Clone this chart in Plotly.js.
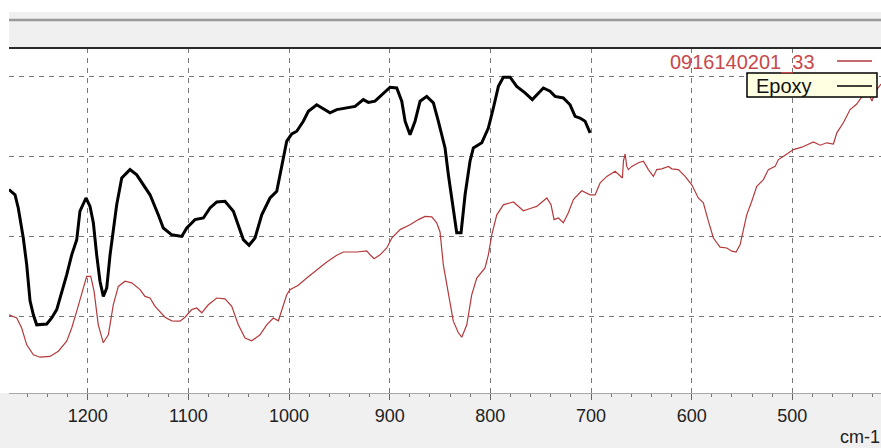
<!DOCTYPE html>
<html>
<head>
<meta charset="utf-8">
<script src="https://cdn.plot.ly/plotly-3.0.1.min.js"></script>
<style>
  html, body { margin: 0; padding: 0; background: #ffffff; overflow: hidden; }
  #chart { width: 881px; height: 448px; }
</style>
</head>
<body>
<div id="chart"></div>
<script>
// ---- Data (wavenumber cm-1, relative intensity) ----
const epoxyWavenumber = [1278.2,1272.2,1269.0,1264.0,1260.6,1257.3,1254.0,1250.7,1240.7,1235.8,1230.8,1225.8,1220.9,1215.9,1210.9,1207.7,1201.7,1197.7,1194.4,1191.1,1187.8,1184.5,1181.1,1177.8,1174.6,1171.2,1166.2,1158.0,1151.3,1144.8,1138.1,1129.9,1124.9,1116.5,1106.6,1101.6,1093.4,1085.1,1078.5,1071.8,1063.6,1055.3,1050.4,1045.4,1039.7,1033.8,1027.1,1018.9,1012.2,1007.3,1002.3,997.3,992.3,985.8,980.8,972.5,965.9,959.3,952.6,942.7,934.4,926.2,921.2,914.6,907.9,899.6,893.0,888.0,884.7,879.8,874.8,869.8,863.2,856.6,851.7,845.0,841.7,836.8,833.4,829.1,825.1,820.2,816.9,808.5,802.0,797.0,792.0,787.1,780.4,773.8,765.5,758.3,753.9,747.3,740.7,735.7,727.5,720.8,715.8,710.9,705.9,700.9];
const epoxyValue = [51.6,50.3,47.0,39.5,32.8,23.8,20.3,17.8,18.0,19.5,21.6,25.8,30.3,35.3,39.1,46.2,49.5,47.4,43.3,35.3,28.7,24.9,27.0,35.3,42.0,47.8,54.5,56.6,55.3,52.8,50.3,45.3,42.0,40.3,39.9,42.0,44.1,44.5,47.0,48.5,48.7,46.2,42.8,39.1,37.7,39.5,45.3,49.5,51.2,57.8,63.7,65.5,66.2,68.7,71.2,72.8,71.8,70.8,71.6,72.0,72.4,74.1,73.4,73.7,75.3,77.2,77.0,73.7,68.7,65.3,68.7,73.7,74.9,73.3,68.7,62.0,55.3,47.0,40.8,40.8,50.3,58.7,62.0,63.3,67.0,72.0,77.4,79.7,79.7,77.4,75.8,74.1,75.3,77.0,76.2,74.9,74.5,72.8,69.9,69.5,68.7,65.8];

const sampleWavenumber = [1278.2,1270.5,1265.6,1260.6,1254.0,1247.4,1237.5,1229.2,1220.9,1215.9,1210.9,1206.0,1201.0,1197.0,1193.7,1189.5,1184.5,1179.5,1174.6,1169.6,1162.9,1156.3,1148.0,1143.1,1138.1,1133.1,1123.2,1116.5,1108.3,1103.3,1096.7,1091.7,1086.7,1080.2,1071.8,1063.6,1056.9,1050.4,1043.7,1037.1,1028.8,1022.2,1015.6,1010.6,1007.3,1002.3,999.0,990.8,982.4,972.5,962.5,952.6,946.0,932.7,922.8,919.5,915.5,909.6,902.9,897.9,889.7,879.8,871.5,864.9,858.2,853.3,850.0,846.7,841.7,836.8,831.8,828.4,823.4,818.5,813.5,805.3,802.0,798.6,793.6,787.1,777.1,767.2,758.9,753.9,743.9,739.7,736.7,732.4,727.5,722.5,717.5,709.2,700.9,695.9,690.9,684.3,676.0,671.0,668.8,667.8,666.1,664.5,662.9,659.5,652.9,647.9,643.0,638.0,634.7,629.7,623.1,619.8,613.2,606.5,599.9,593.4,588.4,583.4,578.4,571.8,565.1,560.1,555.9,551.9,548.6,545.3,540.3,535.3,528.7,523.8,517.1,513.8,507.2,498.9,490.6,485.6,479.0,472.4,465.8,459.2,455.8,449.3,442.6,436.0,431.0,424.8,420.8,417.8,411.9];
const sampleValue = [20.3,19.5,17.0,12.8,10.3,9.7,9.9,11.2,13.7,17.0,21.2,25.3,29.9,29.9,26.2,17.8,13.3,15.3,22.8,27.4,28.7,28.3,26.6,24.9,24.5,22.4,19.7,18.8,18.7,19.7,21.6,22.0,20.8,22.8,24.5,24.3,22.4,17.8,14.5,13.8,15.3,17.8,19.5,18.8,21.2,25.3,26.6,27.7,29.5,31.6,33.5,35.2,36.0,36.0,36.3,35.3,34.3,35.3,37.0,39.5,41.6,42.8,44.1,44.9,44.8,43.3,41.0,32.8,25.3,18.7,15.8,14.7,17.8,25.3,29.5,32.0,35.3,40.3,45.3,47.8,48.5,46.3,47.0,47.4,49.5,47.8,44.1,44.5,43.3,45.8,49.1,51.3,50.3,50.3,53.3,54.9,56.2,54.9,54.5,58.7,60.5,57.4,56.6,57.4,58.3,58.7,56.6,54.9,56.6,56.8,57.4,56.8,56.6,54.9,52.8,49.5,48.3,43.7,39.5,37.2,37.0,36.2,36.0,37.8,41.2,45.3,48.7,52.4,54.1,56.6,57.4,59.1,60.2,61.6,62.2,62.7,63.5,62.7,63.3,63.0,65.8,68.3,71.6,73.0,74.75,75.75,73.75,76.0,78.0];

const tickValues = [1200, 1100, 1000, 900, 800, 700, 600, 500];
const tickLabels = ["1200", "1100", "1000", "900", "800", "700", "600", "500"];
const seriesNames = ["0916140201_33", "Epoxy"];
const xUnit = "cm-1";

// ---- Layout geometry (pixels) ----
const W = 881, H = 448;
const M = { l: 9, r: 0, t: 48, b: 55 };
const PW = W - M.l - M.r, PH = H - M.t - M.b;
const px = x => (x - M.l) / PW;          // pixel x -> paper x
const py = y => (H - M.b - y) / PH;       // pixel y -> paper y

const FONT = "Liberation Sans, Arial, sans-serif";
const RED = "#b5393b";

const traces = [
  { x: sampleWavenumber, y: sampleValue, type: "scatter", mode: "lines",
    name: seriesNames[0], line: { color: RED, width: 1.2 }, hoverinfo: "skip" },
  { x: epoxyWavenumber, y: epoxyValue, type: "scatter", mode: "lines",
    name: seriesNames[1], line: { color: "#000000", width: 3 }, hoverinfo: "skip" }
];

const shapes = [
  // bottom gray band
  { type: "rect", xref: "paper", yref: "paper", x0: px(0), x1: px(W), y0: py(H), y1: py(393), fillcolor: "#f0f0f0", line: { width: 0 }, layer: "below" },
  // top gray band
  { type: "rect", xref: "paper", yref: "paper", x0: px(9), x1: px(W), y0: py(48), y1: py(12), fillcolor: "#f0f0f0", line: { width: 0 }, layer: "below" },
  { type: "line", xref: "paper", yref: "paper", x0: px(9), x1: px(W), y0: py(20), y1: py(20), line: { color: "#9a9a9a", width: 2.5 } },
  { type: "line", xref: "paper", yref: "paper", x0: px(9), x1: px(W), y0: py(48), y1: py(48), line: { color: "#2a2a2a", width: 2 } },
  // legend: red sample line
  { type: "line", xref: "paper", yref: "paper", x0: px(837), x1: px(872), y0: py(61), y1: py(61), line: { color: RED, width: 1.5 } },
  // legend: Epoxy box
  { type: "rect", xref: "paper", yref: "paper", x0: px(747), x1: px(877), y0: py(97), y1: py(73), fillcolor: "#ffffe1", line: { color: "#000000", width: 1.5 }, layer: "above" },
  { type: "line", xref: "paper", yref: "paper", x0: px(837), x1: px(872), y0: py(86), y1: py(86), line: { color: "#000000", width: 1.5 } }
];

const annotations = [
  { xref: "paper", yref: "paper", x: px(817), y: py(62), xanchor: "right", yanchor: "middle",
    text: seriesNames[0], showarrow: false, font: { family: FONT, size: 20, color: "#c8484b" } },
  { xref: "paper", yref: "paper", x: px(754), y: py(86), xanchor: "left", yanchor: "middle",
    text: seriesNames[1], showarrow: false, font: { family: FONT, size: 20, color: "#111111" } },
  { xref: "paper", yref: "paper", x: px(838), y: py(437), xanchor: "left", yanchor: "middle",
    text: xUnit, showarrow: false, font: { family: FONT, size: 18, color: "#222222" } }
];

const layout = {
  width: W, height: H,
  margin: { l: M.l, r: M.r, t: M.t, b: M.b, pad: 0 },
  paper_bgcolor: "#ffffff",
  plot_bgcolor: "#ffffff",
  showlegend: false,
  font: { family: FONT, size: 18, color: "#222222" },
  xaxis: {
    range: [1278.2, 411.9],
    tickmode: "array", tickvals: tickValues, ticktext: tickLabels,
    showgrid: true, gridcolor: "#777777", gridwidth: 1, griddash: "5px,5px",
    zeroline: false,
    showline: true, linecolor: "#a8a8a8", linewidth: 1,
    ticks: "outside", ticklen: 6, tickcolor: "#666666", tickwidth: 1,
    minor: { dtick: 20, tick0: 0, ticks: "outside", ticklen: 3, tickcolor: "#777777", showgrid: false },
    tickfont: { family: FONT, size: 18, color: "#222222" },
    fixedrange: true
  },
  yaxis: {
    range: [0.75, 87],
    dtick: 20, tick0: 0,
    showticklabels: false, ticks: "",
    showgrid: true, gridcolor: "#777777", gridwidth: 1, griddash: "5px,5px",
    zeroline: false, showline: false,
    fixedrange: true
  },
  shapes: shapes,
  annotations: annotations
};

Plotly.newPlot("chart", traces, layout, { staticPlot: true, displayModeBar: false });
</script>
</body>
</html>
